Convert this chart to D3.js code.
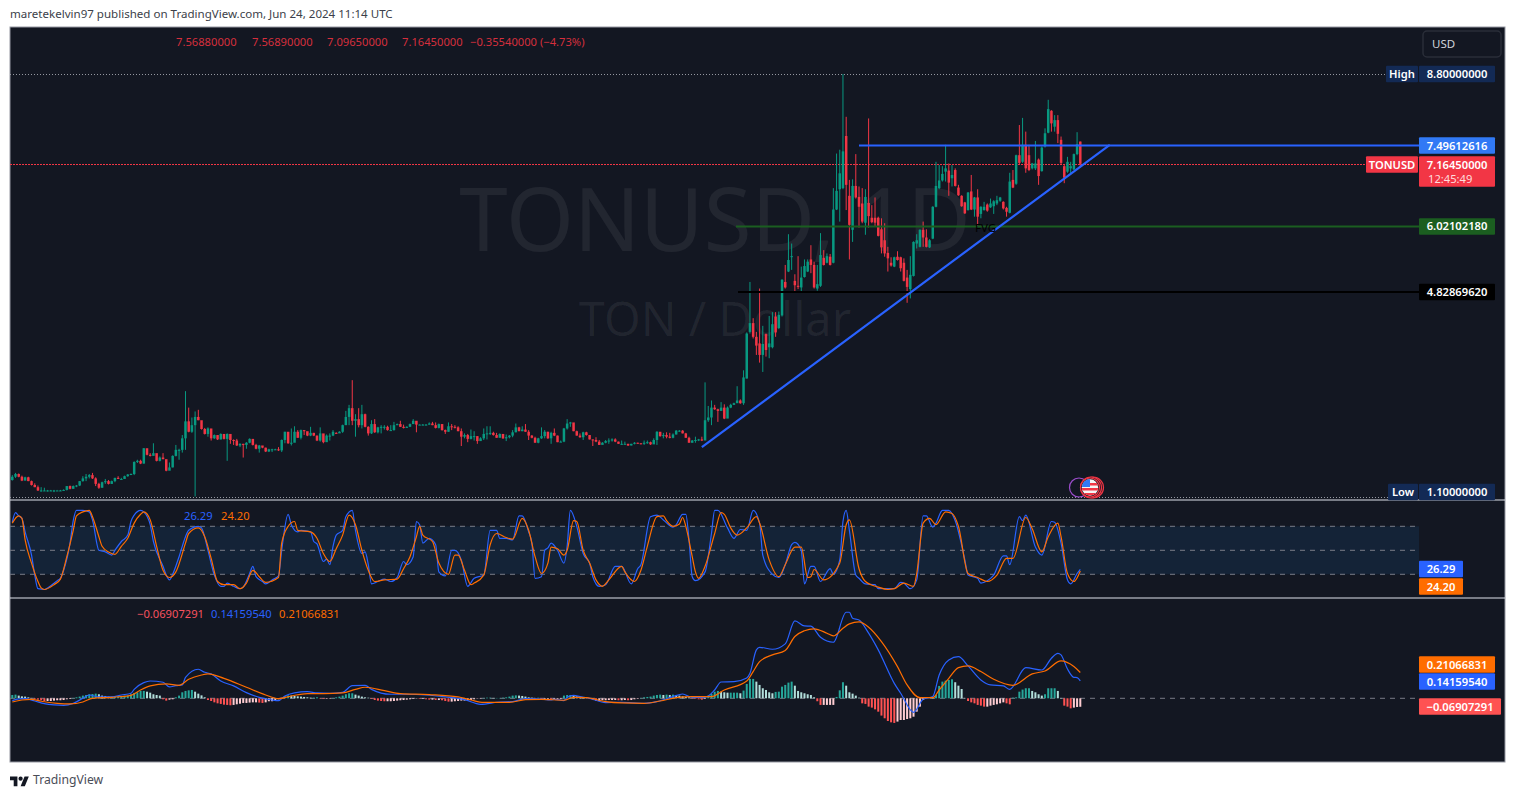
<!DOCTYPE html>
<html>
<head>
<meta charset="utf-8">
<style>
  body {margin: 0; background: #fff;}
  text {font-family: "Noto Sans", sans-serif;}
</style>
<script src="https://d3js.org/d3.v7.min.js"></script>
</head>
<body>
<svg id="chart" width="1515" height="797"></svg>
<script>
// TONUSD daily candles
var opens = [1.40,1.46,1.51,1.46,1.39,1.45,1.38,1.31,1.27,1.21,
1.21,1.21,1.21,1.21,1.21,1.21,1.21,1.22,1.29,1.24,
1.29,1.30,1.38,1.43,1.46,1.49,1.43,1.33,1.26,1.36,
1.38,1.33,1.38,1.44,1.42,1.42,1.47,1.50,1.51,1.73,
1.75,1.70,1.98,1.86,1.84,1.89,1.75,1.81,1.78,1.57,
1.63,1.84,1.95,1.95,2.16,2.47,2.28,2.40,2.55,2.49,
2.33,2.24,2.34,2.16,2.22,2.14,2.24,2.15,2.24,2.13,
2.12,2.03,2.06,2.04,2.08,2.15,2.04,1.97,2.03,1.99,
1.92,1.96,1.96,1.96,1.94,2.13,2.28,2.07,2.08,2.28,
2.17,2.31,2.29,2.21,2.26,2.21,2.12,2.25,2.09,2.21,
2.21,2.26,2.25,2.28,2.40,2.55,2.71,2.48,2.51,
2.40,2.60,2.37,2.25,2.42,2.27,2.36,2.37,2.37,2.31,
2.31,2.40,2.42,2.37,2.35,2.37,2.42,2.48,2.41,2.41,2.41,
2.41,2.43,2.40,2.35,2.42,2.31,2.28,2.38,2.37,2.36,
2.29,2.19,2.22,2.15,2.20,2.20,2.11,2.16,2.24,2.25,
2.26,2.22,2.17,2.24,2.16,2.18,2.21,2.27,2.36,2.29,
2.32,2.28,2.21,2.17,2.08,2.16,2.20,2.28,2.16,2.26,
2.21,2.09,2.10,2.34,2.43,2.45,2.29,2.21,2.18,2.27,
2.22,2.14,2.13,2.10,2.04,2.08,2.11,2.12,2.14,2.10,
2.06,2.06,2.06,2.03,2.06,2.08,2.07,2.06,2.08,2.09,
2.05,2.13,2.28,2.20,2.22,2.19,2.17,2.23,2.30,2.30,
2.25,2.17,2.08,2.12,2.13,2.14,2.12,2.49,2.54,2.72,
2.69,2.66,2.72,2.52,2.72,2.77,2.80,2.85,2.80,
3.25,4.10,4.26,4.01,3.89,3.68,4.06,3.82,3.82,4.38,
4.17,4.40,5.01,5.20,5.47,5.03,4.94,4.91,5.10,5.20,
5.42,5.32,4.89,4.94,5.45,5.36,5.47,5.36,6.33,6.70,
6.72,7.67,6.58,5.96,6.76,6.56,6.44,6.09,6.45,6.18,
6.18,6.18,5.97,5.77,5.54,5.36,5.29,5.47,5.46,5.36,
5.09,4.88,5.12,5.71,
5.65,5.96,5.82,5.64,5.80,6.38,6.72,6.86,7.02,7.04,
6.90,7.05,6.73,6.58,6.46,6.32,6.66,6.33,6.55,6.25,
6.32,6.42,6.37,6.39,6.44,6.49,6.47,6.36,6.27,6.87,
6.80,7.32,7.20,7.51,7.32,7.08,7.08,7.24,7.03,7.48,
7.73,8.13,7.84,7.96,7.60,7.12,7.02,7.08,7.06,7.34,
7.5688];

var highs = [1.49,1.53,1.52,1.48,1.46,1.46,1.39,1.34,1.30,1.27,
1.26,1.22,1.22,1.22,1.22,1.22,1.23,1.29,1.30,1.30,
1.31,1.38,1.47,1.51,1.51,1.53,1.45,1.35,1.37,1.42,
1.40,1.39,1.44,1.47,1.44,1.48,1.51,1.52,1.74,1.77,
1.77,1.98,1.95,1.89,2.07,1.87,1.83,1.89,1.77,1.72,
1.85,2.04,1.97,2.22,3.02,2.72,2.54,2.65,2.68,2.43,
2.35,2.36,2.30,2.23,2.21,2.25,2.21,2.25,2.15,2.14,
2.15,2.07,2.06,2.09,2.16,2.08,2.06,2.04,2.00,1.99,
1.97,1.97,1.97,2.00,2.14,2.28,2.22,2.34,2.38,2.31,
2.32,2.31,2.26,2.37,2.26,2.21,2.36,2.12,2.23,2.25,
2.31,2.27,2.29,2.41,2.66,2.77,3.22,2.60,2.71,
2.77,2.61,2.38,2.49,2.51,2.37,2.40,2.40,2.39,2.40,
2.46,2.43,2.48,2.41,2.38,2.43,2.51,2.46,2.42,2.42,2.42,
2.45,2.46,2.45,2.43,2.42,2.32,2.45,2.42,2.40,2.38,
2.34,2.25,2.24,2.32,2.29,2.20,2.18,2.34,2.38,2.38,
2.28,2.26,2.25,2.24,2.23,2.22,2.31,2.43,2.37,2.38,
2.42,2.31,2.22,2.19,2.17,2.36,2.31,2.28,2.28,2.34,
2.21,2.12,2.35,2.51,2.46,2.42,2.30,2.25,2.28,2.28,
2.22,2.14,2.18,2.13,2.09,2.13,2.16,2.16,2.16,2.10,
2.12,2.10,2.06,2.06,2.09,2.08,2.07,2.12,2.12,2.10,
2.16,2.29,2.25,2.26,2.27,2.26,2.25,2.31,2.31,2.31,
2.26,2.19,2.13,2.19,2.15,2.19,3.18,2.75,2.85,2.77,
2.70,2.82,2.78,2.74,2.79,2.81,3.11,2.87,3.40,
4.09,5.01,4.35,4.10,4.89,4.21,4.07,4.39,4.46,4.46,
4.47,5.06,5.32,5.88,5.71,5.15,5.48,5.29,5.42,5.42,
5.68,5.38,5.32,5.90,5.59,5.53,5.52,6.72,7.35,7.42,
8.80,8.02,6.87,6.88,7.34,6.75,6.72,6.70,7.99,6.41,
6.55,6.20,6.17,6.08,5.65,5.46,5.47,5.57,5.47,5.44,
5.23,5.48,5.75,5.88,
5.97,6.11,5.97,5.79,6.39,7.20,7.14,7.12,7.51,7.17,
7.14,7.08,6.78,6.59,6.47,6.65,6.96,6.56,6.70,6.39,
6.47,6.44,6.53,6.50,6.58,6.56,6.48,6.38,7.00,7.05,
7.33,7.87,8.00,7.75,7.51,7.18,7.58,7.26,7.48,7.81,
8.33,8.14,8.05,8.05,7.66,7.14,7.29,7.20,7.35,7.74,
7.5689];

var lows = [1.39,1.44,1.45,1.38,1.39,1.38,1.30,1.27,1.20,1.19,
1.20,1.19,1.20,1.18,1.21,1.20,1.21,1.21,1.23,1.24,
1.27,1.29,1.37,1.38,1.43,1.42,1.29,1.24,1.26,1.33,
1.32,1.33,1.36,1.42,1.42,1.42,1.46,1.49,1.49,1.71,
1.69,1.70,1.85,1.83,1.87,1.74,1.74,1.78,1.56,1.62,
1.63,1.83,1.77,1.90,1.95,2.27,2.26,1.10,2.49,2.32,
2.23,2.19,2.12,2.15,2.13,2.14,2.14,1.75,2.06,2.04,
2.02,2.00,1.81,1.97,2.07,2.03,1.96,1.90,1.98,1.91,
1.91,1.91,1.95,1.93,1.91,2.07,2.06,2.03,2.10,2.17,
2.14,2.22,2.20,2.20,2.20,2.11,2.10,2.07,2.12,2.12,
2.20,2.24,2.26,2.26,2.42,2.40,2.40,2.19,2.36,
2.34,2.36,2.21,2.24,2.26,2.25,2.25,2.32,2.30,2.30,
2.30,2.40,2.37,2.34,2.35,2.37,2.42,2.27,2.41,2.40,2.40,
2.41,2.40,2.34,2.34,2.30,2.24,2.28,2.31,2.34,2.29,
2.02,2.16,2.09,2.14,2.12,2.06,2.12,2.13,2.14,2.22,
2.21,2.17,2.18,2.15,2.11,2.16,2.18,2.27,2.29,2.29,
2.28,2.13,2.16,2.08,2.07,2.15,2.16,2.15,2.06,2.20,
2.09,2.09,2.09,2.32,2.37,2.29,2.21,2.17,2.13,2.21,
2.14,2.02,2.09,2.04,2.06,2.07,2.06,2.10,2.09,2.06,
2.04,2.05,2.02,2.03,2.05,2.06,2.05,2.04,2.06,2.04,
2.09,2.04,2.19,2.16,2.16,2.16,2.16,2.23,2.28,2.25,
2.17,2.08,2.08,2.08,2.11,2.11,2.15,2.46,2.40,2.68,
2.46,2.68,2.51,2.59,2.71,2.77,2.82,2.79,2.77,
3.25,4.07,3.98,3.68,3.54,3.37,3.65,3.62,3.80,4.01,
4.15,4.38,4.89,5.19,5.23,4.82,4.88,4.82,5.09,5.19,
5.17,4.89,4.85,4.92,5.31,5.35,5.31,5.35,6.32,6.11,
6.70,6.32,5.42,5.74,6.53,6.00,6.08,5.87,6.00,6.08,
6.02,5.84,5.53,5.47,5.20,5.29,5.28,5.40,5.20,5.02,
4.63,4.71,5.11,5.62,
5.64,5.65,5.64,5.63,5.79,6.37,6.70,6.84,6.84,6.58,
6.75,6.75,6.58,6.38,6.25,6.31,6.32,6.20,6.03,6.17,
6.31,6.29,6.36,6.25,6.41,6.47,6.33,6.20,6.26,6.72,
6.78,7.16,7.18,7.00,7.03,7.06,7.05,6.78,7.02,7.46,
7.72,7.75,7.75,7.54,7.16,6.81,7.00,6.99,7.05,7.32,
7.0965];

var closes = [1.46,1.51,1.46,1.39,1.45,1.38,1.31,1.27,1.21,1.21,
1.21,1.21,1.21,1.21,1.21,1.21,1.22,1.29,1.24,1.29,
1.30,1.38,1.43,1.46,1.49,1.43,1.33,1.26,1.36,1.38,
1.33,1.38,1.44,1.42,1.42,1.47,1.50,1.51,1.73,1.75,
1.70,1.98,1.86,1.84,1.89,1.75,1.81,1.78,1.57,1.63,
1.84,1.95,1.95,2.16,2.47,2.28,2.40,2.55,2.49,2.33,
2.24,2.34,2.16,2.22,2.14,2.24,2.15,2.24,2.13,2.12,
2.03,2.06,2.04,2.08,2.15,2.04,1.97,2.03,1.99,1.92,
1.96,1.96,1.96,1.94,2.13,2.28,2.07,2.08,2.28,2.17,
2.31,2.29,2.21,2.26,2.21,2.12,2.25,2.09,2.21,2.21,
2.28,2.25,2.28,2.40,2.55,2.71,2.48,2.51,2.40,
2.60,2.37,2.25,2.42,2.27,2.36,2.37,2.37,2.31,2.31,
2.40,2.42,2.37,2.35,2.37,2.42,2.48,2.41,2.41,2.41,2.41,
2.43,2.40,2.35,2.42,2.31,2.28,2.38,2.37,2.36,2.29,
2.19,2.22,2.15,2.20,2.20,2.11,2.16,2.24,2.25,2.26,
2.22,2.17,2.24,2.16,2.18,2.21,2.27,2.36,2.29,2.32,
2.28,2.21,2.17,2.08,2.16,2.20,2.28,2.16,2.26,2.21,
2.09,2.10,2.34,2.43,2.45,2.29,2.21,2.18,2.27,2.22,
2.14,2.13,2.10,2.04,2.08,2.11,2.12,2.14,2.10,2.06,
2.06,2.06,2.03,2.06,2.08,2.07,2.06,2.08,2.09,2.05,
2.13,2.28,2.20,2.22,2.19,2.17,2.23,2.30,2.30,2.25,
2.17,2.08,2.12,2.13,2.14,2.12,2.49,2.54,2.72,2.69,
2.66,2.72,2.52,2.72,2.77,2.80,2.85,2.80,3.27,
4.07,4.26,4.01,3.85,3.68,3.88,3.77,3.89,4.24,4.09,
4.41,5.05,4.91,5.41,5.48,4.95,4.92,5.09,5.30,5.38,
5.32,4.91,4.97,5.50,5.32,5.48,5.32,6.33,6.67,6.99,
7.39,6.78,6.05,6.76,6.55,6.38,6.11,6.56,6.21,6.10,
6.09,5.85,5.64,5.53,5.44,5.31,5.46,5.41,5.26,5.03,
4.92,5.14,5.74,5.77,
5.96,5.82,5.65,5.77,6.38,6.76,6.86,6.98,7.08,6.82,
6.96,6.76,6.59,6.39,6.26,6.64,6.33,6.55,6.20,6.38,
6.38,6.31,6.44,6.48,6.50,6.55,6.35,6.29,6.84,6.73,
7.32,7.18,7.51,7.08,7.05,7.17,7.17,6.94,7.46,7.72,
8.16,7.90,7.96,7.71,7.18,6.91,7.20,7.12,7.34,7.52,
7.1645];

// stochastic RSI, bar number + value for the visible turns of each line
var kBars = [0,1,2,3,4,6,7,8,10,11,14,15,16,18,19,20,22,24,25,27,29,31,32,34,36,37,38,40,41,43,44,47,48,49,50,52,54,55,58,59,61,63,65,66,67,69,71,72,74,75,76,78,79,81,83,84,86,87,89,90,93,94,95,97,98,99,100,101,103,104,106,107,109,110,111,112,114,116,118,120,122,123,125,126,127,128,130,132,133,135,137,138,140,142,144,147,149,151,152,154,156,158,159,161,162,163,165,
166,167,168,170,172,173,174,176,178,180,181,183,185,188,190,193,195,196,199,201,203,206,207,209,210,211,212,213,216,218,219,220,223,225,227,229,231,233,234,237,239,241,243,244,246,247,249,250,252,255,256,258,259,260,261,263,264,266,269,270,275,277,278,280,282,284,285,287,288,290,292,294,297,298,301,302,304,306,309,310,311,314,315,316,319,321,324,325,327,329,330,332,333];
var kVals = [85,97,93,90,73,44,19,2,1,3,12,15,25,59,87,100,100,98,88,50,48,44,50,61,69,86,94,100,98,82,61,30,19,13,20,42,67,75,80,78,50,19,5,5,9,5,2,4,21,30,17,11,8,13,18,50,95,82,73,75,73,61,58,36,39,32,55,69,75,92,100,75,46,48,32,8,11,14,11,16,36,32,42,86,82,59,65,57,23,18,50,50,38,5,15,19,75,75,65,65,63,93,93,73,59,15,17,
50,53,59,50,34,55,100,80,46,34,17,5,7,30,30,8,27,32,92,94,88,79,82,95,95,63,17,12,23,71,100,100,78,65,76,75,100,84,44,20,16,32,57,60,50,8,30,30,11,27,20,38,86,100,75,19,15,8,7,2,2,10,9,2,13,93,93,79,84,100,100,87,38,19,15,9,12,19,43,43,32,92,87,94,54,44,86,85,59,13,8,21,26.29];
var dBars = [0,2,3,4,6,8,9,10,13,15,17,19,20,22,24,25,27,28,30,32,34,36,38,40,41,43,45,47,49,51,54,55,58,60,62,64,66,69,71,73,75,77,79,83,84,86,88,89,93,95,97,99,101,103,105,107,109,111,113,116,120,122,124,126,127,128,131,133,136,138,139,141,143,144,147,149,151,154,156,159,161,163,165,
167,168,170,172,173,175,176,178,180,182,184,186,190,191,194,196,198,201,203,204,206,208,209,210,212,213,214,216,219,221,222,224,226,229,232,233,236,239,241,244,246,248,249,250,253,258,260,261,264,266,270,273,275,278,281,282,284,286,288,291,293,295,298,301,304,307,310,312,316,318,321,323,326,327,329,331,333];
var dVals = [84,93,90,63,34,11,3,1,7,14,42,75,93,98,100,92,67,55,48,45,55,65,84,95,98,88,55,25,16,23,59,71,78,67,40,11,7,7,2,9,25,17,10,16,59,80,86,75,73,65,46,36,52,69,94,82,50,25,11,13,14,27,42,67,80,69,61,34,20,44,44,25,7,9,19,57,71,66,64,90,75,42,21,
34,54,52,44,50,87,86,50,34,13,5,13,30,23,11,25,55,92,93,87,80,83,91,80,42,23,15,30,71,97,95,78,69,78,92,84,38,17,32,54,54,16,17,26,13,34,82,88,27,11,4,1,2,9,5,21,84,90,82,98,96,80,21,16,11,19,40,40,91,77,48,67,84,67,21,11,24.20];

// MACD lines, same idea
var macdBars = [0,2,4,7,10,13,16,19,22,24,27,31,34,37,38,41,43,47,49,51,53,54,58,60,62,65,69,73,77,81,83,85,88,92,95,99,103,106,110,112,118,123,129,135,141,146,152,156,160,164,168,
169,172,173,175,177,180,185,190,197,201,206,209,212,216,219,221,225,229,230,232,233,237,241,244,247,249,252,256,260,261,262,264,267,270,275,277,281,284,287,289,292,295,298,302,305,309,311,316,321,324,326,327,329,331,332,333];
var macdVals = [-.019,-.005,-.003,-.022,-.044,-.054,-.057,-.041,0,.027,.011,.011,.027,.041,.073,.128,.141,.131,.093,.103,.109,.171,.237,.212,.199,.141,.101,.046,.008,-.014,-.019,.019,.044,.054,.044,.041,.049,.103,.106,.073,.033,.033,.027,.011,-.011,-.049,-.03,-.027,-.003,-.005,-.014,
-.008,-.019,.008,.024,.014,0,-.035,-.033,-.041,-.027,.014,.035,.008,.008,.068,.133,.136,.166,.204,.395,.416,.4,.444,.631,.59,.588,.498,.457,.702,.702,.653,.639,.531,.395,.122,.041,-.114,-.008,.014,.19,.313,.34,.264,.15,.109,.101,.073,.25,.231,.327,.367,.354,.239,.171,.169,.1416];
var signalBars = [0,3,6,9,14,18,22,25,31,37,40,43,48,52,55,59,61,66,73,79,83,87,92,97,103,107,110,116,121,130,139,143,147,155,160,165,
172,175,179,185,190,197,202,207,212,218,222,229,231,233,237,241,244,247,250,254,256,259,261,264,267,271,276,279,283,287,289,292,295,298,302,306,312,318,322,327,331,333];
var signalVals = [-.03,-.014,-.008,-.024,-.041,-.046,-.03,0,.008,.024,.068,.101,.117,.106,.155,.19,.199,.163,.09,.027,-.003,.019,.038,.038,.044,.073,.09,.063,.038,.03,.011,-.014,-.033,-.033,-.011,-.008,
-.016,.008,.005,-.027,-.038,-.041,-.022,.005,.014,.014,.068,.141,.218,.299,.354,.39,.504,.551,.567,.531,.509,.571,.607,.623,.58,.463,.258,.109,.005,.005,.068,.163,.25,.264,.218,.155,.106,.199,.223,.305,.259,.2107];
var histVals = [.027,.03,.022,.016,.014,.008,.003,-.005,-.011,-.016,
-.022,-.022,-.022,-.019,-.016,-.016,-.014,-.008,-.005,.003,
.008,.014,.022,.027,.033,.035,.038,.033,.022,.019,
.014,.014,.014,.016,.019,.022,.022,.033,.044,.049,
.06,.06,.054,.046,.033,.027,.022,-.008,-.019,-.011,
-.008,.008,.022,.049,.06,.065,.068,.054,.038,.024,
.008,-.014,-.022,-.033,-.041,-.046,-.052,-.054,-.057,-.054,
-.049,-.044,-.038,-.038,-.035,-.033,-.033,-.035,-.038,-.033,
-.024,-.024,-.016,-.008,.005,.016,.024,.022,.019,.016,
.014,.011,.008,.005,.005,.008,-.003,-.005,-.005,-.003,
.003,.008,.014,.022,.033,.041,.041,.03,.022,.014,
.008,.005,-.005,-.014,-.019,-.022,-.024,-.024,-.024,-.022,
-.019,-.016,-.014,-.011,-.008,-.005,-.003,-.005,-.005,-.008,
-.011,-.011,-.014,-.014,-.016,-.022,-.027,-.027,-.024,-.022,
-.019,-.019,-.016,-.014,-.008,-.003,-.003,.003,.005,.005,
.003,.003,.003,.005,.008,.014,.022,.024,.022,.019,
.014,.008,.005,.003,.005,-.008,-.008,-.008,-.011,-.011,
-.008,-.005,.022,.027,.027,.022,.016,.014,.008,.003,
-.005,-.014,-.022,-.022,-.016,-.016,-.014,-.014,-.014,-.016,
-.016,-.014,-.016,-.014,-.008,-.005,.003,.008,.011,.014,
.022,.027,.03,.027,.03,.027,.03,.027,.022,.016,
.011,.008,-.003,-.005,-.008,-.011,-.005,.022,.035,.054,
.06,.054,.049,.046,.046,.046,.046,.041,.063,.117,
.158,.158,.136,.109,.082,.068,.049,.041,.052,.054,
.095,.109,.128,.136,.103,.06,.049,.041,.033,.027,
.008,-.024,-.054,-.054,-.054,-.054,-.054,.011,.065,.131,
.103,.049,.038,.022,.005,-.041,-.046,-.068,-.076,-.09,
-.109,-.141,-.163,-.185,-.196,-.201,-.19,-.177,-.177,-.169,
-.163,-.15,-.109,-.068,-.014,.005,.008,.005,.027,.101,
.136,.144,.15,.155,.131,.103,.076,.003,-.022,-.033,
-.041,-.054,-.06,-.068,-.068,-.06,-.054,-.049,-.041,-.033,
-.041,-.049,.005,.008,.054,.071,.082,.082,.06,.049,
.033,.022,.033,.082,.082,.082,.06,.003,-.06,-.068,
-.082,-.076,-.071,-.0691];

// drawn levels and trend line
var highPrice = 8.8, lowPrice = 1.1, lastPrice = 7.1645;
var resistance = 7.49612616, fvgLevel = 6.0210218, support = 4.8286962;
var trendBars = [215, 342.2], trendPrices = [2.0, 7.51];
var stochLevels = [80, 50, 20];

var upColor = "#089981", downColor = "#f23645", blue = "#2962ff", orange = "#ff6d00";
var bg = "#131722";

var svg = d3.select("#chart");

var x = d3.scaleLinear().domain([0, closes.length - 1]).range([12.3, 1080.3]);
var y = d3.scaleLinear().domain([lowPrice, highPrice]).range([496.5, 74]);
var yStoch = d3.scaleLinear().domain([0, 100]).range([590.3, 510.3]);
var yMacd = d3.scaleLinear().domain([0, 0.5]).range([698.3, 637]);

var paneRight = 1419, frameLeft = 10, frameRight = 1505;

// frame
svg.append("rect").attr("x", frameLeft).attr("y", 27).attr("width", frameRight - frameLeft).attr("height", 735)
    .attr("fill", bg).attr("stroke", "#9598a1").attr("stroke-width", 1);

// header and footer
svg.append("text").attr("x", 10).attr("y", 18).attr("font-size", 11.55).attr("fill", "#3c3f4a")
    .text("maretekelvin97 published on TradingView.com, Jun 24, 2024 11:14 UTC");

var logo = svg.append("g").attr("transform", "translate(10,774.5) scale(0.53)").attr("fill", "#131722");
logo.append("path").attr("d", "M14 22H7V11H0V4h14v18zM28 22h-8l7.5-18h8L28 22z");
logo.append("circle").attr("cx", 20).attr("cy", 8).attr("r", 4);
svg.append("text").attr("x", 33).attr("y", 784).attr("font-size", 12.2).attr("fill", "#4a4d57").text("TradingView");

// watermark
svg.append("text").attr("x", 715).attr("y", 251).attr("text-anchor", "middle").attr("font-size", 87)
    .attr("fill", "#ffffff").attr("fill-opacity", 0.065).text("TONUSD, 1D");
svg.append("text").attr("x", 715).attr("y", 336).attr("text-anchor", "middle").attr("font-size", 47)
    .attr("fill", "#ffffff").attr("fill-opacity", 0.065).text("TON / Dollar");

// dotted high / low / last
function dotted(price, x2, color, dash) {
    svg.append("line").attr("x1", frameLeft).attr("x2", x2).attr("y1", Math.round(y(price)) + 0.5).attr("y2", Math.round(y(price)) + 0.5)
        .attr("stroke", color).attr("stroke-width", 1).attr("stroke-dasharray", dash);
}
dotted(highPrice, 1386, "#9598a1", "1 2");
dotted(lowPrice, 1388, "#9598a1", "1 2");
dotted(lastPrice, 1366, "#f23645", "2 1");

// candles
var bars = d3.range(closes.length);
svg.append("g").selectAll("line").data(bars).enter().append("line")
    .attr("x1", function(i) {return x(i)})
    .attr("x2", function(i) {return x(i)})
    .attr("y1", function(i) {return y(highs[i])})
    .attr("y2", function(i) {return y(lows[i])})
    .attr("stroke", function(i) {return closes[i] >= opens[i] ? upColor : downColor})
    .attr("stroke-width", 1);
svg.append("g").selectAll("rect").data(bars).enter().append("rect")
    .attr("x", function(i) {return x(i) - 1.25})
    .attr("width", 2.5)
    .attr("y", function(i) {return y(Math.max(opens[i], closes[i]))})
    .attr("height", function(i) {return Math.max(1, Math.abs(y(opens[i]) - y(closes[i])))})
    .attr("fill", function(i) {return closes[i] >= opens[i] ? upColor : downColor});

// drawn lines
function level(price, x1, color, w) {
    svg.append("line").attr("x1", x1).attr("x2", paneRight).attr("y1", y(price)).attr("y2", y(price))
        .attr("stroke", color).attr("stroke-width", w);
}
level(fvgLevel, 736, "#1b5e20", 2);
level(support, 738, "#000000", 2);
level(resistance, 859, "#2962ff", 2);
svg.append("line")
    .attr("x1", x(trendBars[0])).attr("y1", y(trendPrices[0]))
    .attr("x2", x(trendBars[1])).attr("y2", y(trendPrices[1]))
    .attr("stroke", "#2962ff").attr("stroke-width", 2.2);
svg.append("text").attr("x", 975).attr("y", 231.5).attr("font-size", 11.5).attr("fill", "#000").text("FVG");

// event marker
var ev = svg.append("g");
ev.append("circle").attr("cx", 1079).attr("cy", 487.5).attr("r", 9.5).attr("fill", "none").attr("stroke", "#9c4dcc").attr("stroke-width", 1.2);
ev.append("circle").attr("cx", 1093).attr("cy", 487.5).attr("r", 10.5).attr("fill", "none").attr("stroke", "#f23645").attr("stroke-width", 1.2);
ev.append("circle").attr("cx", 1091).attr("cy", 487.5).attr("r", 10.5).attr("fill", bg).attr("stroke", "#f23645").attr("stroke-width", 1.2);
ev.append("circle").attr("cx", 1090).attr("cy", 487.5).attr("r", 9.5).attr("fill", bg).attr("stroke", "#f23645").attr("stroke-width", 1.2);
svg.append("clipPath").attr("id", "flag").append("circle").attr("cx", 1090).attr("cy", 487.5).attr("r", 8.2);
var flag = ev.append("g").attr("clip-path", "url(#flag)");
flag.append("rect").attr("x", 1081).attr("y", 479).attr("width", 18).attr("height", 17).attr("fill", "#f5f5f5");
flag.append("rect").attr("x", 1081).attr("y", 488).attr("width", 18).attr("height", 2.5).attr("fill", "#f23645");
flag.append("rect").attr("x", 1081).attr("y", 493).attr("width", 18).attr("height", 2.5).attr("fill", "#f23645");
flag.append("rect").attr("x", 1090).attr("y", 483).attr("width", 9).attr("height", 2.5).attr("fill", "#f23645");
flag.append("rect").attr("x", 1081).attr("y", 479).attr("width", 9).attr("height", 8).attr("fill", "#3179f5");

// pane separators
[500, 598].forEach(function(py) {
    svg.append("line").attr("x1", frameLeft).attr("x2", frameRight).attr("y1", py).attr("y2", py)
        .attr("stroke", "#e0e3eb").attr("stroke-width", 1);
});

// stochastic pane
svg.append("rect").attr("x", frameLeft).attr("width", paneRight - frameLeft)
    .attr("y", yStoch(stochLevels[0])).attr("height", yStoch(stochLevels[2]) - yStoch(stochLevels[0]))
    .attr("fill", "#2196f3").attr("fill-opacity", 0.1);
stochLevels.forEach(function(l) {
    svg.append("line").attr("x1", frameLeft).attr("x2", paneRight).attr("y1", yStoch(l)).attr("y2", yStoch(l))
        .attr("stroke", "#787b86").attr("stroke-width", 1).attr("stroke-dasharray", "5 5");
});

function drawLine(xs, ys, yScale, color) {
    var line = d3.line()
        .x(function(d, i) {return x(xs[i])})
        .y(function(d) {return yScale(d)})
        .curve(d3.curveMonotoneX);
    svg.append("path").attr("d", line(ys)).attr("fill", "none").attr("stroke", color).attr("stroke-width", 1.2);
}
drawLine(kBars, kVals, yStoch, blue);
drawLine(dBars, dVals, yStoch, orange);

// macd pane
svg.append("line").attr("x1", frameLeft).attr("x2", paneRight).attr("y1", yMacd(0)).attr("y2", yMacd(0))
    .attr("stroke", "#787b86").attr("stroke-width", 1).attr("stroke-dasharray", "5 5");
svg.append("g").selectAll("rect").data(histVals).enter().append("rect")
    .attr("x", function(d, i) {return x(i) - 1})
    .attr("width", 2)
    .attr("y", function(d) {return Math.min(yMacd(d), yMacd(0))})
    .attr("height", function(d) {return Math.abs(yMacd(d) - yMacd(0))})
    .attr("fill", function(d, i) {
        var prev = i ? histVals[i - 1] : 0;
        if (d >= 0) return d >= prev ? "#26a69a" : "#b2dfdb";
        return d < prev ? "#ff5252" : "#ffcdd2";
    });
drawLine(macdBars, macdVals, yMacd, blue);
drawLine(signalBars, signalVals, yMacd, orange);

// legends
function label(px, py, str, color, size) {
    svg.append("text").attr("x", px).attr("y", py).attr("font-size", size || 11.2).attr("fill", color).text(str);
}
var ohlcText = ["7.56880000", "7.56890000", "7.09650000", "7.16450000"];
var ohlcX = [176, 252, 327, 402];
ohlcText.forEach(function(t, i) {label(ohlcX[i], 46, t, "#d62f3d")});
label(470, 46, "\u22120.35540000 (\u22124.73%)", "#d62f3d");
label(184, 520, "26.29", blue);
label(221, 520, "24.20", orange);
label(137, 618, "\u22120.06907291", "#f7525f");
label(211, 618, "0.14159540", blue);
label(279, 618, "0.21066831", orange);

// USD button
svg.append("rect").attr("x", 1423).attr("y", 31).attr("width", 78).attr("height", 26).attr("rx", 4)
    .attr("fill", "none").attr("stroke", "#2a2e39").attr("stroke-width", 1.5);
label(1432, 48, "USD", "#d1d4dc", 11.5);

// price tags
function tag(x1, x2, cy, h, fill, str, color) {
    svg.append("rect").attr("x", x1).attr("y", cy - h / 2).attr("width", x2 - x1).attr("height", h).attr("fill", fill).attr("rx", 1);
    svg.append("text").attr("x", (x1 + x2) / 2).attr("y", cy + 4).attr("text-anchor", "middle")
        .attr("font-size", 11.2).attr("font-weight", 600).attr("fill", color || "#fff").text(str);
}
var navy = "#132a55";
tag(1386, 1418, y(highPrice), 16.5, navy, "High");
tag(1419, 1495, y(highPrice), 16.5, navy, "8.80000000");
tag(1419, 1495, y(resistance), 16.5, "#3179f5", "7.49612616");
tag(1366, 1418, y(lastPrice) + 0.8, 16.5, downColor, "TONUSD");
svg.append("rect").attr("x", 1419).attr("y", 156.3).attr("width", 76).attr("height", 30.4).attr("fill", downColor).attr("rx", 1);
svg.append("text").attr("x", 1457).attr("y", 168.5).attr("text-anchor", "middle").attr("font-size", 11.2).attr("font-weight", 600).attr("fill", "#fff").text("7.16450000");
svg.append("text").attr("x", 1428).attr("y", 182.5).attr("font-size", 11.2).attr("fill", "#fdd").text("12:45:49");
tag(1419, 1495, y(fvgLevel), 16.5, "#1b5e20", "6.02102180");
tag(1419, 1495, y(support), 16.5, "#000000", "4.82869620");
tag(1388, 1418, 492, 16.5, navy, "Low");
tag(1419, 1495, 492, 16.5, navy, "1.10000000");
tag(1419, 1463, 569, 16.5, blue, "26.29");
tag(1419, 1463, 586.5, 16.5, orange, "24.20");
tag(1419, 1495, 664.5, 16.5, orange, "0.21066831");
tag(1419, 1495, 681.5, 16.5, blue, "0.14159540");
tag(1419, 1501, 706.5, 16.5, "#ff5252", "\u22120.06907291");
</script>
</body>
</html>
